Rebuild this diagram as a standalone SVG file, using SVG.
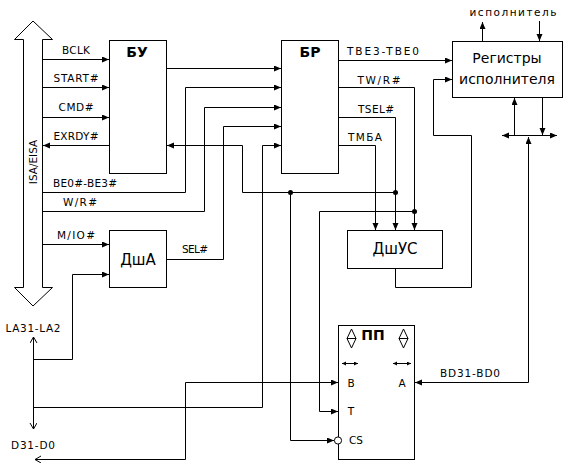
<svg xmlns="http://www.w3.org/2000/svg" width="572" height="469" viewBox="0 0 572 469">
<defs>
<style>
.l{fill:none;stroke:#000;stroke-width:1}
.b{fill:#fff;stroke:#000;stroke-width:1}
.t{font-family:"DejaVu Sans","Liberation Sans",sans-serif;font-size:10.5px;fill:#000}
.m{text-anchor:middle}
.big{font-size:14px}
.blk{font-size:14px;font-weight:600}
</style>
<marker id="a" markerUnits="userSpaceOnUse" markerWidth="8" markerHeight="8" refX="7" refY="3" orient="auto"><path d="M0,0 L7,3 L0,6 Z" fill="#000"/></marker>
<marker id="s" markerUnits="userSpaceOnUse" markerWidth="6" markerHeight="6" refX="4" refY="2" orient="auto-start-reverse"><path d="M0,0 L4,2 L0,4 Z" fill="#000"/></marker>
<marker id="o" markerUnits="userSpaceOnUse" markerWidth="8" markerHeight="8" refX="6" refY="3.5" orient="auto-start-reverse"><path d="M0,0 L6,3.5 L0,7" fill="none" stroke="#000"/></marker>
</defs>
<rect width="572" height="469" fill="#fff"/>

<g id="bus">
<polygon class="b" points="23.5,287.5 23.5,39.5 14.5,39.5 33,21 52.5,39.5 42.5,39.5 42.5,287.5 52.5,287.5 33,306 14.5,287.5"/>
<text class="t m" transform="translate(37,162) rotate(-90)">ISA/EISA</text>
</g>

<g id="BU"><rect class="b" x="109.5" y="40.5" width="57" height="133"/><text class="t m blk" x="137" y="57">БУ</text></g>
<g id="BR"><rect class="b" x="281.5" y="40.5" width="57" height="133"/><text class="t m blk" x="310" y="57">БР</text></g>
<g id="DshA"><rect class="b" x="109.5" y="230.5" width="57" height="57"/><text class="t m big" x="138" y="265" style="font-size:15px">ДшА</text></g>
<g id="DshUS"><rect class="b" x="347.5" y="230.5" width="95" height="38"/><text class="t m big" x="395" y="254" style="font-size:15px">ДшУС</text></g>
<g id="Reg"><rect class="b" x="452.5" y="41.5" width="110" height="56"/><text class="t m big" x="507" y="63">Регистры</text><text class="t m big" x="507" y="84">исполнителя</text></g>
<g id="PP">
<rect class="b" x="338.5" y="325.5" width="76" height="134"/>
<text class="t m blk" x="373" y="340">ПП</text>
<path class="l" d="M351.5,329 L347,338.5 L351.5,348 L356,338.5 Z M347,338.5 H356"/>
<path class="l" d="M403.5,329 L399,338.5 L403.5,348 L408,338.5 Z M399,338.5 H408"/>
<path class="l" d="M342,363.5 H358" marker-start="url(#s)" marker-end="url(#s)"/>
<path class="l" d="M393,363.5 H411" marker-start="url(#s)" marker-end="url(#s)"/>
<text class="t m" x="351" y="387">B</text>
<text class="t m" x="402" y="387">A</text>
<text class="t m" x="351" y="415">T</text>
<text class="t m" x="356" y="444">CS</text>
<circle cx="338" cy="440.5" r="3.6" fill="#fff" stroke="#000"/>
</g>

<g id="connectors">
<path class="l" d="M42,59.5 H109" marker-end="url(#a)"/>
<path class="l" d="M42,87.5 H109" marker-end="url(#a)"/>
<path class="l" d="M42,117.5 H109" marker-end="url(#a)"/>
<path class="l" d="M109,145.5 H43" marker-end="url(#a)"/>
<path class="l" d="M395.5,192.5 H242.5 V145.5 H167" marker-end="url(#a)"/>
<path class="l" d="M166,68.5 H281" marker-end="url(#a)"/>
<path class="l" d="M42,192.5 H185.5 V87.5 H281" marker-end="url(#a)"/>
<path class="l" d="M42,211.5 H204.5 V107.5 H281" marker-end="url(#a)"/>
<path class="l" d="M42,244.5 H109" marker-end="url(#a)"/>
<path class="l" d="M166,259.5 H223.5 V126.5 H281" marker-end="url(#a)"/>
<path class="l" d="M33.5,407.5 H262.5 V145.5 H281" marker-end="url(#a)"/>
<path class="l" d="M33.5,359.5 H72.5 V274.5 H109" marker-end="url(#a)"/>
<path class="l" d="M33.5,429 V337" marker-start="url(#o)" marker-end="url(#o)"/>
<path class="l" d="M35,459.5 H185.5 V382.5 H338" marker-start="url(#o)" marker-end="url(#a)"/>
<path class="l" d="M338,60.5 H452" marker-end="url(#a)"/>
<path class="l" d="M338,87.5 H414.5 V230" marker-end="url(#a)"/>
<path class="l" d="M338,117.5 H395.5 V230" marker-end="url(#a)"/>
<path class="l" d="M338,145.5 H375.5 V230" marker-end="url(#a)"/>
<path class="l" d="M290.5,192.5 V440.5 H334" marker-end="url(#a)"/>
<path class="l" d="M414.5,211.5 H319.5 V411.5 H338" marker-end="url(#a)"/>
<path class="l" d="M395.5,268 V287.5 H471.5 V135.5 H433.5 V79.5 H452" marker-end="url(#a)"/>
<path class="l" d="M482.5,41 V22" marker-end="url(#a)"/>
<path class="l" d="M539.5,21 V41" marker-end="url(#a)"/>
<path class="l" d="M514.5,135 V98" marker-end="url(#a)"/>
<path class="l" d="M542.5,98 V135" marker-end="url(#a)"/>
<path class="l" d="M528,135.5 H502" marker-end="url(#a)"/>
<path class="l" d="M528,135.5 H557" marker-end="url(#a)"/>
<path class="l" d="M528.5,382.5 V137" marker-end="url(#a)"/>
<path class="l" d="M528.5,382.5 H415" marker-end="url(#a)"/>
<circle cx="290.5" cy="192.5" r="2.5"/>
<circle cx="395.5" cy="192.5" r="2.5"/>
<circle cx="414.5" cy="211.5" r="2.5"/>
</g>

<g id="labels">
<text class="t m" x="76" y="54" textLength="28">BCLK</text>
<text class="t m" x="76" y="82" textLength="45">START#</text>
<text class="t m" x="76" y="111" textLength="35">CMD#</text>
<text class="t m" x="76" y="140" textLength="45">EXRDY#</text>
<text class="t m" x="85" y="187" textLength="64">BE0#-BE3#</text>
<text class="t m" x="80" y="206" textLength="34">W/R#</text>
<text class="t m" x="76" y="239" textLength="38">M/IO#</text>
<text class="t m" x="195" y="253" textLength="26">SEL#</text>
<text class="t m" x="383" y="55" textLength="72">TBE3-TBE0</text>
<text class="t m" x="379" y="84" textLength="43">TW/R#</text>
<text class="t m" x="376" y="113" textLength="36">TSEL#</text>
<text class="t m" x="365" y="141" textLength="34">TMБА</text>
<text class="t m" x="470" y="377" textLength="60">BD31-BD0</text>
<text class="t m" x="33" y="332" textLength="55">LA31-LA2</text>
<text class="t m" x="33" y="449" textLength="44">D31-D0</text>
<text class="t m" x="513" y="16" textLength="87">исполнитель</text>
</g>
</svg>
